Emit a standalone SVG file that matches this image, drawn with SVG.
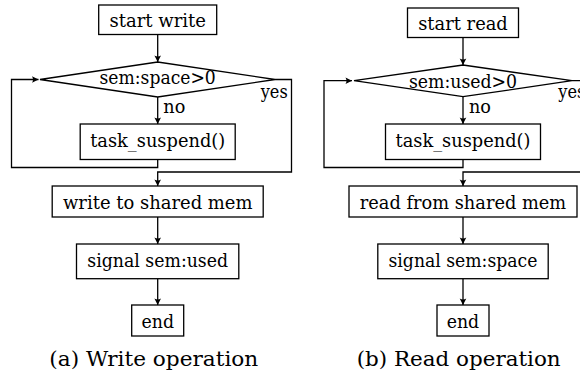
<svg xmlns="http://www.w3.org/2000/svg" width="580" height="376" viewBox="0 0 580 376">
  <defs>
    <style>
      .box { fill: #fff; stroke: #000; stroke-width: 1.3; }
      .edge { fill: none; stroke: #000; stroke-width: 1.3; }
      .t { font-family: "DejaVu Serif", "Liberation Serif", "Times New Roman", serif; font-size: 18.5px; fill: #000; }
      .cap { font-family: "DejaVu Serif", "Liberation Serif", "Times New Roman", serif; font-size: 21px; fill: #000; }
    </style>
    <marker id="arrow" viewBox="-7 -4 8 8" refX="0" refY="0" markerWidth="8" markerHeight="8" markerUnits="userSpaceOnUse" orient="auto">
      <path d="M0,0 L-6.5,-3.3 Q-4.5,0 -6.5,3.3 Z" fill="#000"/>
    </marker>
  </defs>
  <rect width="580" height="376" fill="#fff"/>

  <!-- connectors -->
  <g id="connectors" class="edge" marker-end="url(#arrow)">
    <!-- write flow -->
    <path d="M157.7,34.5 V62"/>
    <path d="M157.7,97 V124"/>
    <path d="M157.7,159.5 V167.5 H11.5 V79.5 H38.5"/>
    <path d="M275,79.5 H291.5 V172 H157.7 V186"/>
    <path d="M157.7,217 V244"/>
    <path d="M157.7,278.7 V305"/>
    <!-- read flow -->
    <path d="M463,37.5 V65"/>
    <path d="M463,96.7 V124"/>
    <path d="M463,159.5 V167.5 H324 V80.7 H352"/>
    <path d="M572,80.7 H590 V172 H463 V186"/>
    <path d="M463,217 V244"/>
    <path d="M463,278.7 V305"/>
  </g>

  <!-- write operation -->
  <g id="w-start">
    <rect class="box" x="98.7" y="5" width="118" height="29.5"/>
    <text class="t" x="109.4" y="27" textLength="96.6" lengthAdjust="spacingAndGlyphs">start write</text>
  </g>
  <g id="w-check">
    <polygon class="box" points="40,79.5 157.7,62 275,79.5 157.7,97"/>
    <text class="t" x="99.5" y="84" textLength="116.3" lengthAdjust="spacingAndGlyphs">sem:space&gt;0</text>
    <text class="t" x="163.3" y="113.3" textLength="22" lengthAdjust="spacingAndGlyphs">no</text>
    <text class="t" x="260.7" y="97.5" textLength="27" lengthAdjust="spacingAndGlyphs">yes</text>
  </g>
  <g id="w-suspend">
    <rect class="box" x="80.2" y="124" width="155" height="35.5"/>
    <text class="t" x="90.2" y="147" textLength="135" lengthAdjust="spacingAndGlyphs">task_suspend()</text>
  </g>
  <g id="w-write">
    <rect class="box" x="52.2" y="186" width="211" height="31"/>
    <text class="t" x="63" y="209" textLength="189.5" lengthAdjust="spacingAndGlyphs">write to shared mem</text>
  </g>
  <g id="w-signal">
    <rect class="box" x="76.5" y="244" width="162.3" height="34.7"/>
    <text class="t" x="87.3" y="266.5" textLength="140.8" lengthAdjust="spacingAndGlyphs">signal sem:used</text>
  </g>
  <g id="w-end">
    <rect class="box" x="131.7" y="305" width="52" height="31"/>
    <text class="t" x="141.5" y="327.5" textLength="32.5" lengthAdjust="spacingAndGlyphs">end</text>
  </g>
  <text class="cap" x="49.3" y="366" textLength="209" lengthAdjust="spacingAndGlyphs">(a) Write operation</text>

  <!-- read operation -->
  <g id="r-start">
    <rect class="box" x="407.5" y="8" width="111" height="29.5"/>
    <text class="t" x="418.2" y="30" textLength="89.6" lengthAdjust="spacingAndGlyphs">start read</text>
  </g>
  <g id="r-check">
    <polygon class="box" points="354,80.7 463,65 572,80.7 463,96.7"/>
    <text class="t" x="408.9" y="87.5" textLength="108.2" lengthAdjust="spacingAndGlyphs">sem:used&gt;0</text>
    <text class="t" x="469" y="113.3" textLength="22" lengthAdjust="spacingAndGlyphs">no</text>
    <text class="t" x="558.3" y="97.5" textLength="27" lengthAdjust="spacingAndGlyphs">yes</text>
  </g>
  <g id="r-suspend">
    <rect class="box" x="385.5" y="124" width="155" height="35.5"/>
    <text class="t" x="395.5" y="147" textLength="135" lengthAdjust="spacingAndGlyphs">task_suspend()</text>
  </g>
  <g id="r-read">
    <rect class="box" x="349" y="186" width="228" height="31"/>
    <text class="t" x="359.8" y="209" textLength="206.4" lengthAdjust="spacingAndGlyphs">read from shared mem</text>
  </g>
  <g id="r-signal">
    <rect class="box" x="377.8" y="244" width="170.4" height="34.7"/>
    <text class="t" x="388.5" y="266.5" textLength="148.9" lengthAdjust="spacingAndGlyphs">signal sem:space</text>
  </g>
  <g id="r-end">
    <rect class="box" x="437" y="305" width="52" height="31"/>
    <text class="t" x="446.7" y="327.5" textLength="32.5" lengthAdjust="spacingAndGlyphs">end</text>
  </g>
  <text class="cap" x="356.7" y="366" textLength="204" lengthAdjust="spacingAndGlyphs">(b) Read operation</text>
</svg>
